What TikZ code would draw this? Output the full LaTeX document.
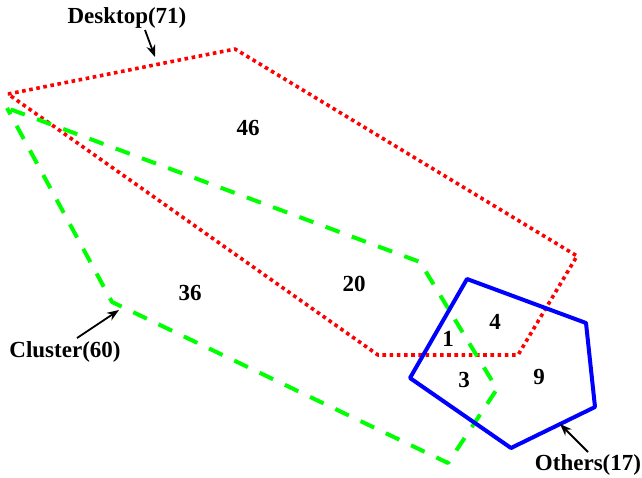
\documentclass[tikz,border=0pt]{standalone}
\usepackage{fontspec}
\setmainfont{Liberation Serif}
\usetikzlibrary{arrows.meta}
\tikzset{
  lbl/.style={font=\fontsize{23}{26}\selectfont\bfseries},
  num/.style={font=\fontsize{23}{26}\selectfont\bfseries},
  pointer/.style={-{Stealth[length=12pt,width=9pt]}, line width=1.8pt},
  desktopset/.style={red, line width=3.6pt, dash pattern=on 3.6pt off 3.6pt, line join=round},
  clusterset/.style={green, line width=4pt, dash pattern=on 15pt off 13pt, dash phase=24pt, line join=round},
  othersset/.style={blue, line width=4pt, line join=round}
}
\begin{document}
\begin{tikzpicture}[x=1pt,y=-1pt]
  \useasboundingbox (0,0) rectangle (642,477);
  % Desktop region
  \coordinate (d1) at (8,94);
  \coordinate (d2) at (235,49);
  \coordinate (d3) at (577,256);
  \coordinate (d4) at (518,355);
  \coordinate (d5) at (378,355);
  \draw[desktopset] (d1) -- (d2) -- (d3) -- (d4) -- (d5) -- cycle;
  % Cluster region
  \coordinate (c1) at (7,108);
  \coordinate (c2) at (420,262);
  \coordinate (c3) at (497,389);
  \coordinate (c4) at (448,463);
  \coordinate (c5) at (112,302);
  \draw[clusterset] (c1) -- (c2) -- (c3) -- (c4) -- (c5) -- cycle;
  % Others region
  \coordinate (o1) at (467,279);
  \coordinate (o2) at (586,323);
  \coordinate (o3) at (595,407);
  \coordinate (o4) at (511,448);
  \coordinate (o5) at (410,378);
  \draw[othersset] (o1) -- (o2) -- (o3) -- (o4) -- (o5) -- cycle;

  % counts
  \node[num] (n46) at (248,128) {46};
  \node[num] (n36) at (190,293) {36};
  \node[num] (n20) at (354,284) {20};
  \node[num] (n1) at (448,339) {1};
  \node[num] (n4) at (495,322) {4};
  \node[num] (n3) at (464,380) {3};
  \node[num] (n9) at (539,377) {9};

  % set names
  \node[lbl] (desktop) at (127,18) {Desktop(71)};
  \node[lbl] (cluster) at (65,352) {Cluster(60)};
  \node[lbl] (others) at (588,465) {Others(17)};
  \coordinate (dtip) at (155,57);
  \coordinate (ctip) at (119,310);
  \coordinate (otip) at (560,424);
  \draw[pointer] (145,30) coordinate (dfoot) -- (dtip);
  \draw[pointer] (77,338) coordinate (cfoot) -- (ctip);
  \draw[pointer] (588,452) coordinate (ofoot) -- (otip);
\end{tikzpicture}
\end{document}
